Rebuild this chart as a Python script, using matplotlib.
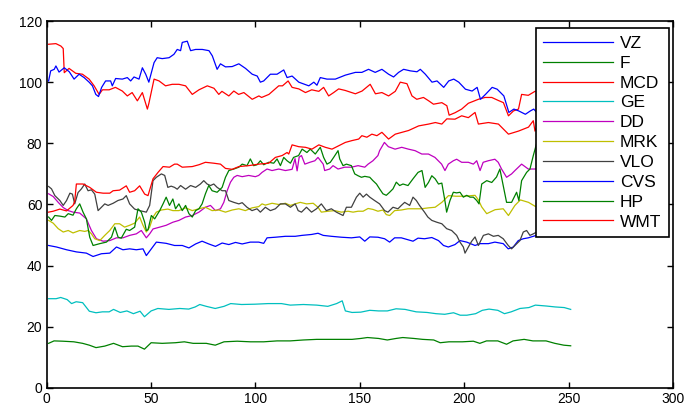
import matplotlib.pyplot as plt

plt.rcParams['font.family'] = ['Liberation Sans', 'DejaVu Sans']

tickers = ['VZ', 'F', 'MCD', 'GE', 'DD', 'MRK', 'VLO', 'CVS', 'HP', 'WMT']

# values as (day, price)
vz = [(1, 46.6), (4.8, 46.1), (9.6, 45.2), (14.3, 44.5), (19.1, 44.1), (22.3, 43), (26.3, 43.9),
      (30.3, 44.1), (33.5, 46.1), (36.6, 45.2), (39.8, 45.5), (43, 45.2), (46.2, 45.5), (47.8, 43.3),
      (50.2, 45.5), (52.6, 47.7), (57.3, 47.3), (61.3, 46.6), (65, 46.6), (68.2, 45.8), (71.4, 47.1),
      (74.5, 48), (77.7, 47.1), (80.9, 46.3), (84.1, 47.4), (87.3, 46.9), (90.5, 47.6), (93.7, 47.1),
      (97.6, 47.7), (101.6, 47.7), (104, 47.3), (105.6, 49.1), (109.6, 49.3), (114.4, 49.6),
      (119.1, 49.6), (122.3, 49.9), (126.9, 50.2), (130, 50.6), (132.5, 49.9), (136.4, 49.6),
      (141.2, 49.3), (146, 49.1), (150, 49.4), (152.4, 48), (154.8, 49.4), (158.7, 49.3),
      (161.9, 48.8), (164.3, 47.7), (166.7, 49.1), (169.9, 49.1), (175.5, 48), (177.9, 49),
      (181, 48.8), (184.5, 49.2), (187.7, 48.2), (190.1, 46.6), (192.4, 46.1), (195.6, 46.9),
      (198, 48.2), (201.2, 47.7), (205.2, 46.6), (207.6, 47.2), (211.6, 47.2), (214.7, 47.7),
      (218.7, 47.2), (221.1, 45.5), (223.5, 46.1), (225.9, 48.2), (228.3, 48.8), (230.7, 49.1),
      (233.1, 49.6), (236, 50.2), (240, 50.5), (245, 50.8), (252, 51)]

f = [(1, 14.6), (3.6, 15.4), (7.8, 15.3), (13.1, 15.1), (17.3, 14.6), (20.5, 14), (23.7, 13.2),
     (27.9, 13.7), (32.1, 14.6), (36.4, 13.5), (40.6, 13.7), (43.8, 13.7), (46.9, 12.7), (50.1, 14.8),
     (55.4, 14.6), (61.7, 14.8), (66, 15.1), (70.2, 14.6), (76.5, 14.6), (80.8, 14), (85, 15.1),
     (91.3, 15.3), (97.7, 15.1), (104, 15.1), (110.4, 15.4), (116.7, 15.4), (123, 15.7), (129.4, 15.9),
     (137.8, 15.9), (146.3, 15.9), (150.5, 16.2), (153.7, 16.5), (159, 16.2), (163.2, 15.7),
     (167.4, 16.2), (170.6, 16.5), (175.9, 16.2), (180.1, 15.9), (185.4, 15.7), (188.5, 14.8),
     (192.7, 15.1), (199.1, 15.1), (204.4, 15.3), (207.5, 14.6), (210.7, 15.4), (216.1, 15.4),
     (220.3, 14.3), (223.4, 15.4), (228.7, 15.9), (232.9, 15.4), (239.2, 15.4), (243.4, 14.6),
     (247.7, 14), (251, 13.8)]

mcd = [(1, 112.4), (4.5, 112.6), (6.9, 111.8), (8, 111), (8.5, 103.1), (10.8, 104.5), (14, 102.9),
       (17.2, 102.6), (20.4, 101), (22.8, 98.8), (25.2, 96), (26.8, 97.5), (30, 97.5), (33, 98.3),
       (36.3, 97.1), (38.7, 95.5), (41, 96.6), (43.5, 93.9), (45.9, 96.6), (48.3, 91.2), (49, 93),
       (51.5, 101), (53.9, 100.4), (57, 98.8), (60.2, 99.3), (63.4, 99.3), (66.6, 98.8), (69.8, 96),
       (73, 97.5), (77, 98.8), (80.2, 98), (82.5, 96), (84, 97), (87.3, 95.5), (89.7, 97.1), (92, 96),
       (94.5, 96.6), (98.5, 94.4), (101.7, 95.5), (103, 95), (106.5, 96), (111.2, 98.8), (113, 98.8),
       (115.7, 100.4), (117.6, 98.3), (120.8, 97.8), (124, 96.6), (127, 97.5), (130.4, 97),
       (132.7, 98.3), (135.1, 95.5), (137.5, 96.6), (139.9, 97.8), (143, 97.3), (147.9, 96.2),
       (151.1, 97.1), (155, 99.3), (157.5, 96.2), (160.6, 96.6), (163.8, 95.5), (167, 97),
       (169.4, 100), (172.6, 99.5), (175, 95.5), (177.3, 94.4), (180.5, 95), (183, 93.9),
       (185.3, 92.8), (189.3, 93.3), (191.7, 92.3), (192.8, 89.2), (195.6, 90), (198.8, 91.2),
       (202, 93.1), (206.8, 94.4), (210, 95), (213.2, 95), (216.4, 94), (218.8, 93.3), (221.2, 89),
       (223.6, 90.6), (226, 91.2), (227.5, 96), (230.7, 95.7), (233.9, 97), (240, 97), (252, 96)]

ge = [(1, 29.2), (4.6, 29.2), (6.8, 29.6), (9.9, 28.9), (12, 27.6), (14.2, 28.2), (17.3, 27.9),
      (20.5, 25.1), (23.7, 24.6), (26.8, 24.9), (30, 24.9), (32.1, 25.7), (35.3, 24.7), (38.5, 25.2),
      (41.6, 24.3), (44.8, 25.1), (46.9, 23.3), (50.1, 25.2), (53.3, 26), (58.6, 25.7), (63.8, 26),
      (68.1, 25.8), (71.2, 26.5), (73.4, 27.3), (76.5, 26.7), (80.8, 26), (85, 26.7), (88.2, 27.6),
      (93.4, 27.3), (99.8, 27.4), (106.1, 27.6), (112.5, 27.6), (116.7, 27.1), (123, 27.3),
      (129.4, 27.1), (134.7, 26.7), (138.9, 27.6), (141.6, 28.5), (143.1, 25.2), (146.3, 24.7),
      (150.5, 24.8), (154.8, 25.4), (159, 25.2), (163.2, 25.2), (167.4, 25.9), (171.7, 25.7),
      (177, 24.9), (182.2, 24.7), (186.5, 24.3), (190.7, 24.1), (194.9, 24.6), (198.1, 23.8),
      (201.3, 23.8), (205.5, 24.3), (208.7, 25.4), (211.9, 25.8), (216.1, 25.4), (219.3, 24.3),
      (222.5, 24.9), (226.7, 26), (231, 26.3), (234.1, 27.1), (239.4, 26.8), (243.6, 26.5),
      (247.9, 26.3), (251, 25.7)]

dd = [(1, 63.5), (3.2, 62.6), (5.6, 60.7), (8, 59), (10.4, 58), (12.7, 57.5), (15.9, 57.2), (19.1, 55.3),
      (21.5, 51.5), (23.9, 48.8), (27.1, 48), (30.3, 48.2), (33.5, 49.1), (36.6, 49.1), (39.8, 49.9),
      (43, 50.4), (45.4, 51.5), (47.8, 49.1), (49.4, 50.4), (51, 52), (54.2, 52.6), (57.3, 53.2),
      (60.5, 54.2), (63.4, 54.8), (66.6, 55.9), (69.8, 56.4), (73, 57.5), (76.1, 59.1), (78.5, 59.7),
      (80.9, 58), (83.3, 58.6), (84.9, 60.7), (86.5, 64.5), (88.1, 67.3), (89.7, 68.9), (91.3, 69.5),
      (93.7, 69.1), (96.8, 69.5), (100, 69.1), (101.6, 69.5), (103.2, 70.5), (105.6, 71.6), (108, 71.1),
      (111.2, 71.6), (114.4, 71.1), (117.6, 71.5), (119, 75), (120, 71), (121, 75.5), (122.1, 76),
      (123.7, 73.2), (126.1, 73.8), (128.5, 74.3), (130, 75.4), (132.5, 73.2), (133.2, 71.1),
      (135.6, 71.6), (137.2, 72.7), (139.6, 71.6), (142.8, 72.2), (146, 72.2), (149.2, 72.7),
      (152.4, 72.2), (154, 73.2), (156.3, 74.3), (158.7, 76), (159.5, 77.6), (161.8, 80.3),
      (163.7, 78.9), (166.9, 78.1), (170.1, 78.7), (173.3, 78.1), (176.5, 77.6), (179.7, 76.5),
      (182.9, 76.5), (186, 75.4), (189.2, 73.2), (190.8, 71.1), (192.4, 73.2), (194.8, 74.3),
      (196.4, 74.8), (198.8, 73.8), (202, 73.8), (204.4, 73.2), (206, 74.3), (207.6, 71.1),
      (209.1, 73.8), (211.5, 74.3), (214.7, 74.8), (216.3, 73.8), (217.9, 71.6), (220.3, 68.9),
      (222.7, 70), (224.3, 71.1), (227.5, 73.2), (230.7, 71.6), (233.8, 71.6), (240, 72), (252, 73)]

mrk = [(1, 54.8), (3.2, 53.9), (5.6, 52.1), (8, 51), (10.4, 51.5), (12.7, 50.7), (15.9, 51.5),
       (18.3, 51.2), (20, 51.5), (21.5, 50.4), (23.1, 48.8), (25.5, 48.2), (27.9, 49.9), (30.3, 51.5),
       (32.7, 53.7), (35, 53.7), (37.4, 52.6), (39.8, 53.2), (42.2, 53.9), (44.6, 55.9), (46.2, 53.2),
       (47.8, 51), (49.4, 52.6), (51, 55.9), (52.6, 57.5), (55, 58.2), (58.1, 58.5), (60.5, 58),
       (63.4, 58), (66.6, 58.9), (69.8, 58), (73, 58.6), (76.1, 59.1), (79.3, 58), (82.5, 58.2),
       (85.7, 57.5), (88.9, 58.2), (92.1, 58.6), (95.2, 58), (98.4, 58.9), (101.6, 59.3), (103.2, 60.2),
       (104.8, 59.8), (108, 60.4), (111.2, 60), (114.4, 60.4), (116.8, 59.7), (119.1, 60.2),
       (121.5, 60.7), (124.5, 60.2), (127.7, 60.4), (130, 59.1), (131.6, 57.5), (134.8, 57.8),
       (138, 58), (141.2, 57.5), (144.4, 57.8), (146.8, 57.5), (149.2, 57.8), (151.6, 57.8),
       (154, 58.7), (156.3, 58.4), (158.7, 57.8), (161.1, 58.2), (162.7, 56.7), (164.3, 56.4),
       (166.7, 58), (169.9, 58.2), (173.1, 58.6), (176.3, 58.6), (179.4, 58.6), (182.9, 58.9),
       (186.1, 59.1), (189.3, 60.7), (192.5, 62.9), (196, 62.7), (200, 62.7), (205.2, 63),
       (206.8, 61.5), (208.4, 59.2), (210.8, 57), (214.8, 58.3), (218.7, 58.6), (221.2, 56.4),
       (224.3, 59.7), (226.9, 61.5), (230.8, 60.7), (234, 59.4), (240, 59), (252, 59)]

vlo = [(1, 65.9), (2.4, 65.1), (4, 62.9), (6.4, 61.3), (8, 59.7), (9.6, 61.3), (11.2, 63.7), (12.4, 63.4),
       (13.5, 60.2), (15.1, 63.9), (16.7, 65.1), (18.3, 66.7), (19.9, 64.5), (21.5, 64.8), (23.1, 63.4),
       (24.7, 58), (26.3, 59.1), (27.9, 60.2), (29.5, 59.7), (31.9, 60.4), (34.2, 61.3), (36.6, 61.8),
       (38.2, 62.9), (39.8, 60.2), (42.2, 58.5), (44.6, 58), (47.8, 57.5), (49.4, 59.7), (51, 67.8),
       (52.6, 68.9), (55, 70), (56.6, 69.5), (58.1, 65.6), (59.7, 66), (61.3, 65.6), (62.6, 65),
       (64.2, 66.2), (66.6, 65), (69, 66.2), (71.4, 65.6), (73.7, 66.7), (75.3, 67.8), (76.9, 66.7),
       (78.5, 66.2), (80.1, 66.7), (81.7, 65.6), (84.1, 64.5), (85.7, 64.5), (87.3, 61.3), (89.7, 60.7),
       (92.1, 60.2), (93.7, 60.6), (96, 59.1), (98.4, 58), (100.8, 58.6), (102.4, 57.5), (104.8, 59.1),
       (107.2, 58), (109.6, 58.6), (112, 60.2), (114.4, 60.2), (116.8, 59.1), (119.1, 60.2),
       (120.5, 58), (122.1, 57.5), (124.5, 59.1), (126.9, 57.5), (129.3, 58.6), (131.6, 60.2),
       (134, 58), (136.4, 58.6), (138.8, 57.5), (142, 56.4), (143.6, 59.1), (146, 59.1), (148.4, 62.4),
       (150, 63.7), (151.6, 62.4), (153.2, 63.4), (154.8, 62.4), (157.1, 61.3), (159.5, 60.2),
       (161.9, 58), (163.5, 57.5), (165.9, 59.1), (168.3, 58.6), (169.9, 59.7), (171.5, 60.7),
       (173.9, 59.7), (175.5, 62.4), (177.1, 61.3), (178.6, 59.7), (181, 57.5), (182.6, 55.9),
       (184.5, 54.8), (186.9, 54.2), (189.3, 53.7), (191.6, 52.1), (194, 51.5), (196.4, 49.9),
       (198, 47.7), (199.6, 46.1), (200.4, 44.1), (202, 46.1), (203.6, 48), (205.2, 49.4),
       (206.8, 46.6), (209.2, 49.9), (211.6, 50.4), (214, 49.6), (216.3, 49.9), (218.7, 48.8),
       (221.1, 46.6), (222.7, 45.5), (224.3, 46.6), (226.7, 48.2), (228.3, 51), (229.9, 51.5),
       (231.5, 49.9), (233.1, 50.4), (234.7, 51), (240, 51.5), (252, 52)]

cvs = [(1, 100.4), (2, 103.7), (3.7, 104.2), (4.5, 105.3), (6, 103.3), (8.5, 104.7), (10.9, 103.4),
       (13.2, 101), (15.6, 102.6), (18, 101.5), (20.4, 100), (22, 98.8), (23.6, 96), (24.9, 95.3),
       (26.4, 98.3), (28.3, 100.4), (30.7, 100.4), (31.5, 98.8), (33.1, 101.2), (36.3, 101),
       (38.7, 101.5), (40.3, 100.4), (41.9, 101.7), (44.3, 101), (45.9, 104.7), (47.5, 102.6),
       (49, 100), (51.5, 106.4), (53, 108), (55.4, 107.7), (58.7, 108), (61, 109.1), (62.6, 110.7),
       (64.2, 110.3), (65, 113), (67.4, 113.4), (69, 110.3), (71.4, 110.7), (74.6, 110.7),
       (77.8, 110.3), (79.4, 108.6), (81.7, 104.2), (83.3, 106), (85.7, 105), (88.9, 105.1),
       (92.1, 106), (95.3, 104.5), (98.5, 102.6), (100.9, 102), (102.4, 100), (104, 100.4),
       (107.2, 102.6), (110.4, 102.6), (113.6, 104), (115.2, 101.5), (117.6, 102), (120.8, 100),
       (125.6, 98.8), (128, 100), (129.5, 99), (131.1, 101.5), (134.3, 101), (138.3, 101),
       (143.1, 102.3), (147.9, 103.2), (151, 103.2), (154.2, 104.2), (157.4, 103.2), (160.6, 104.2),
       (163.8, 102.6), (166.2, 101.7), (168.6, 103.2), (171, 104.2), (174.2, 103.7), (177.4, 103.4),
       (179, 104.2), (181.4, 102.6), (184.6, 100), (187, 100.4), (190.2, 98.3), (192.6, 100.4),
       (195, 101), (197.4, 100), (200.6, 97.7), (203.8, 97.1), (206.2, 98.3), (207.8, 94.4),
       (210.2, 96), (213.4, 98.3), (215.8, 97.7), (219, 95.5), (221.4, 90.1), (223.8, 91.2),
       (226.1, 90.6), (229.3, 89.5), (231.7, 90.6), (233.3, 91.2), (234.9, 90), (240, 91), (252, 91)]

hp = [(1, 55.9), (2.4, 54.8), (4, 56.4), (6.4, 56.2), (8.8, 55.9), (10.4, 57), (12.7, 56.5), (14.3, 58.6),
      (15.9, 60.2), (17.5, 57.5), (19.1, 55.3), (20.7, 49.3), (22.3, 46.6), (25.5, 47.2), (28.7, 47.7),
      (31.1, 49.3), (32.7, 52.6), (34.3, 49.3), (35.8, 49), (38.2, 51.9), (39.8, 51.5), (42.2, 52.6),
      (43.8, 58.6), (45.4, 57.5), (47, 54.2), (47.8, 51.5), (48.6, 51.7), (50.2, 56.4), (51.8, 55.3),
      (54.2, 58), (55.8, 60.2), (57.3, 62.4), (58.9, 59.7), (60.5, 61.8), (61.8, 58.6), (63.4, 60.2),
      (65, 58), (66.6, 59.7), (68.2, 57), (69.8, 55.9), (71.4, 58), (73, 58.6), (74.5, 60.2),
      (76.1, 63.5), (77.7, 66.2), (79.3, 64.5), (81.7, 64), (84.1, 65.6), (85.7, 68.9), (87.3, 71.1),
      (89.7, 71.6), (92.1, 72.2), (93.7, 73.2), (96, 72.7), (97.6, 74.9), (99.2, 72.7), (100.8, 73),
      (102.4, 74.3), (104, 73), (106.4, 73.8), (108.8, 73.5), (110.4, 74.9), (112, 72.7), (113.6, 75.4),
      (115.2, 74.3), (116.8, 73.5), (118.3, 75.4), (120.7, 76), (122.4, 78.1), (124.7, 77),
      (126.3, 78.1), (128.7, 76.5), (131.1, 78.7), (132.7, 75.4), (134.3, 73.2), (135.9, 73.8),
      (137.5, 75.4), (139.6, 77.6), (140.4, 74.9), (142, 72.7), (143.6, 73.2), (146, 72.7),
      (147.6, 70), (149.2, 69.4), (150.8, 68.9), (152.4, 69.2), (154.8, 68.9), (156.3, 67.8),
      (158, 66.7), (159.5, 65.1), (161.1, 63.5), (162.7, 63), (164.3, 64), (165.9, 65.1), (167.5, 67.3),
      (169.1, 66.2), (170.7, 66.7), (173.1, 66.2), (175.5, 68.4), (177.9, 70.5), (179.8, 71.1),
      (181.3, 65.6), (182.9, 67.2), (184.5, 69.4), (186.1, 68.4), (187.7, 66.7), (189.3, 67),
      (190.9, 60.7), (191.6, 57.5), (193.2, 61.3), (194.8, 64), (196.4, 63.8), (198, 64), (199.6, 62.4),
      (201.2, 63), (202.8, 62.4), (204.4, 62.4), (206, 61.3), (207.1, 60.2), (208.4, 66.7),
      (210.8, 67.8), (213.2, 67.2), (215.5, 69), (217.1, 71.6), (218.7, 66.2), (220.3, 60.7),
      (222.7, 60.7), (225.1, 64), (226.2, 61.3), (227.5, 67.8), (229.9, 70.5), (231.5, 71.6),
      (233.1, 76), (234.7, 80), (240, 81), (252, 80)]

wmt = [(1, 57.5), (3.2, 57.8), (6.4, 58.5), (9.6, 57.9), (12.7, 59.7), (13.5, 61), (14.3, 66.7),
       (17.5, 66.7), (20.7, 65.6), (23.9, 64), (27.1, 63.7), (30.3, 63.7), (31.9, 64.5), (35, 64.7),
       (38.2, 66.1), (39.8, 64), (42.2, 64.5), (44.6, 66.1), (47, 63.4), (48.6, 62.9), (51, 68.4),
       (53.4, 70.5), (55.8, 72.4), (58.9, 72.2), (61.3, 73.2), (62.6, 73.2), (65, 72.2), (69.8, 72.4),
       (73, 73), (76.1, 73.8), (80.1, 73.5), (83.3, 73.2), (85.7, 71.8), (88.9, 71.5), (92.1, 72.4),
       (96.8, 72.7), (101.6, 73.2), (106.4, 73.5), (109.6, 75.4), (112.8, 76), (115.2, 77),
       (116, 76.5), (117.6, 79.5), (120.8, 78.9), (124, 78.7), (127.1, 78.1), (130.4, 79.5),
       (133.5, 78.7), (136.7, 78.1), (139.9, 79.2), (143.1, 80.3), (146.3, 80.9), (149.5, 81.4),
       (151, 82.5), (153.4, 82), (155.8, 83), (158.2, 82.5), (160.6, 83.6), (163.8, 81.4), (167, 83),
       (170.2, 83.6), (173.4, 84.2), (178.2, 85.7), (183, 86.3), (186.2, 86.8), (189.3, 86.3),
       (191.7, 88), (195.6, 87.9), (198.8, 89), (202, 88.4), (205.2, 90.1), (206.8, 86.3),
       (211.6, 86.8), (216.4, 86.3), (221.2, 83), (226, 84), (230.8, 85.3), (233.1, 87.4),
       (233.9, 84), (234.9, 85.5), (240, 86), (252, 87)]

series = [vz, f, mcd, ge, dd, mrk, vlo, cvs, hp, wmt]

# matlab's old default colour order
colors = ['#0000ff', '#008000', '#ff0000', '#00bfbf', '#bf00bf', '#bfbf00', '#404040']

fig = plt.figure(figsize=(6.89, 4.07), dpi=100)
ax = fig.add_axes([0.0675, 0.0467, 0.9093, 0.9017])

for i, (name, pts) in enumerate(zip(tickers, series)):
    xs = [p[0] for p in pts]
    ys = [p[1] for p in pts]
    ax.plot(xs, ys, color=colors[i % len(colors)], lw=0.9, label=name)

ax.set_xlim(0, 300)
ax.set_ylim(0, 120)
ax.set_xticks(range(0, 301, 50))
ax.set_yticks(range(0, 121, 20))
ax.tick_params(direction='in', length=4, width=1, top=True, right=True, labelsize=10, pad=3)
for s in ax.spines.values():
    s.set_linewidth(1.2)

leg = ax.legend(loc='upper right', bbox_to_anchor=(0.9936, 0.981), borderaxespad=0,
                fontsize=12.5, handlelength=4.0, handletextpad=0.4, labelspacing=0.27,
                borderpad=0.45, fancybox=False, edgecolor='black', framealpha=1)
leg.get_frame().set_linewidth(1.2)

fig.savefig('out.png', dpi=100)
